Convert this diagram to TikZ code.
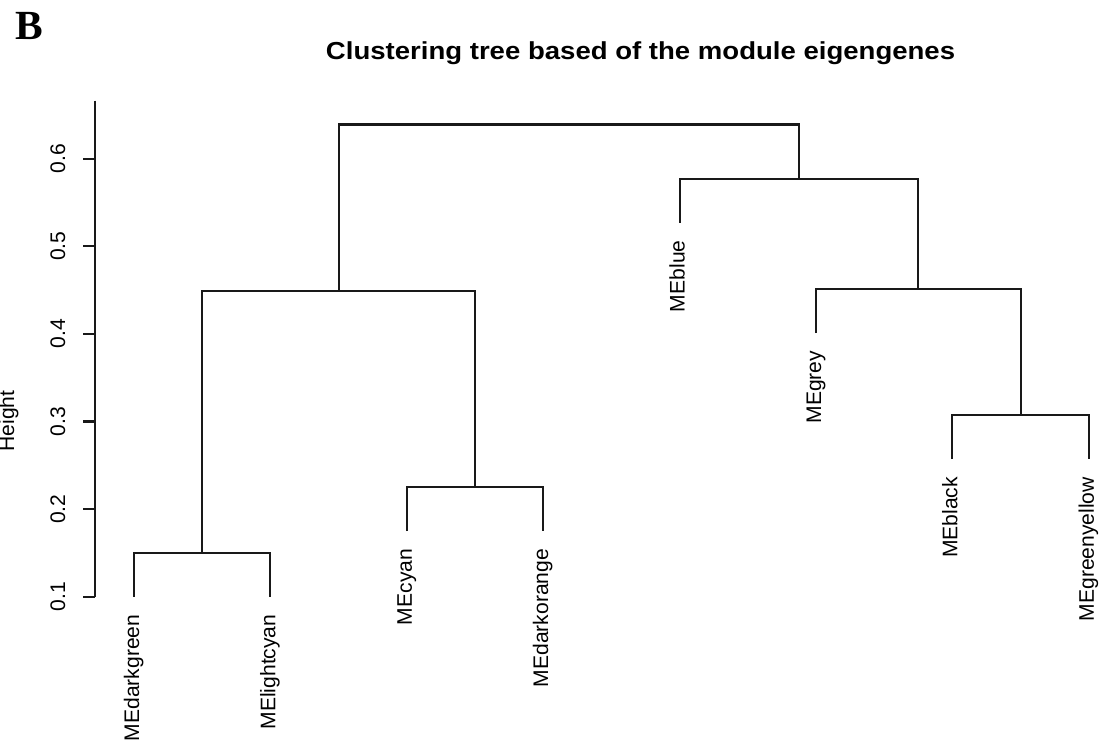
\documentclass[tikz,border=0pt]{standalone}
\usepackage{fontspec}
\setmainfont{Liberation Sans}
\newfontfamily\panelfont{Liberation Serif}
\usetikzlibrary{positioning}

\tikzset{
  tree/.style={line width=1.2pt, black!90},
  leaflabel/.style={rotate=90, anchor=base east, inner sep=0pt, font=\fontsize{12}{14}\selectfont},
  ticklabel/.style={rotate=90, anchor=base, inner sep=0pt, font=\fontsize{12}{14}\selectfont},
}

\begin{document}
\begin{tikzpicture}[x=0.02cm, y=-0.02cm]
 \useasboundingbox (0,0) rectangle (1113,744);

 % height -> y
 \def\hzero{596.7}
 \def\hstep{876}
 \def\hang{0.05}

 %panel and title
 \node[font=\panelfont\bfseries\fontsize{23.6}{28}\selectfont, anchor=base west, inner sep=0pt] (panel) at (14.8,39.3) {B};
 \node[font=\bfseries\fontsize{14}{16}\selectfont, xscale=1.12, anchor=base west, inner sep=0pt] (title) at (325.6,59.3) {Clustering tree based of the module eigengenes};

 %axis
 \coordinate (axtop) at (95,100.7);
 \coordinate (axbot) at (95,\hzero);
 \draw[tree] (axtop) -- (axbot);
 \foreach \i/\name in {0/0.1, 1/0.2, 2/0.3, 3/0.4, 4/0.5, 5/0.6} {
   \pgfmathsetmacro\ty{\hzero-\i*0.1*\hstep}
   \coordinate (tick\i) at (95,\ty);
   \coordinate (tickend\i) at (82.7,\ty);
   \draw[tree] (tick\i) -- (tickend\i);
   \node[ticklabel] (ticklab\i) at (65,\ty) {\name};
 }
 \node[ticklabel] (ylab) at (14,421) {Height};

 %leaves
 \foreach \i/\name/\h in {0/MEdarkgreen/0.150, 1/MElightcyan/0.150, 2/MEcyan/0.225, 3/MEdarkorange/0.225,
                          4/MEblue/0.577, 5/MEgrey/0.451, 6/MEblack/0.307, 7/MEgreenyellow/0.307} {
   \pgfmathsetmacro\lx{134+\i*136.4}
   \pgfmathsetmacro\ly{\hzero-(\h-\hang-0.1)*\hstep}
   \coordinate (leaf\i) at (\lx,\ly);
   \node[leaflabel] (lab\i) at (\lx+5,\ly+17.5) {\name};
 }

 %merges
 \foreach \name/\mx/\h in {m01/202.2/0.150, m23/475/0.225, m67/1020.6/0.307, mL/338.6/0.449,
                           m567/918.3/0.451, m4567/798.95/0.577, root/568.8/0.639} {
   \pgfmathsetmacro\my{\hzero-(\h-0.1)*\hstep}
   \coordinate (\name) at (\mx,\my);
 }

 \draw[tree] (leaf0) |- (m01) -| (leaf1);
 \draw[tree] (leaf2) |- (m23) -| (leaf3);
 \draw[tree] (leaf6) |- (m67) -| (leaf7);
 \draw[tree] (m01) |- (mL) -| (m23);
 \draw[tree] (leaf5) |- (m567) -| (m67);
 \draw[tree] (leaf4) |- (m4567) -| (m567);
 \draw[tree] (mL) |- (root) -| (m4567);

\end{tikzpicture}
\end{document}
